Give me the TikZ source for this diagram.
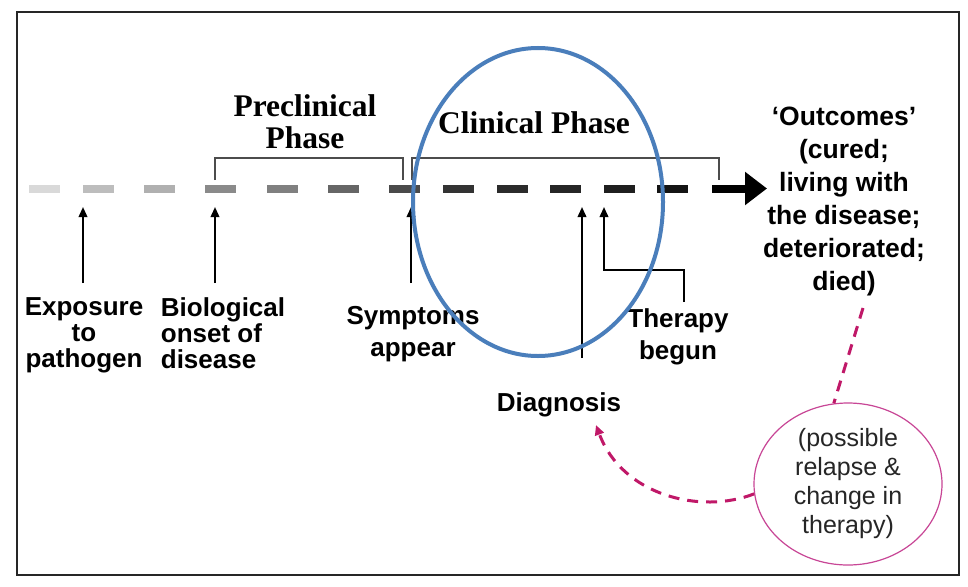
\documentclass[tikz,border=0pt]{standalone}
\usepackage{fontspec}
\setmainfont{Liberation Serif}
\newfontfamily\lsans{Liberation Sans}
\usetikzlibrary{arrows.meta,shapes.geometric}
\definecolor{bluec}{RGB}{74,126,187}
\definecolor{pinkd}{RGB}{192,24,104}
\definecolor{pinke}{RGB}{200,70,150}
\begin{document}
\begin{tikzpicture}[x=1pt,y=-1pt,
  arr/.style={line width=2pt,-{Triangle[length=10pt,width=8.5pt]}},
  brk/.style={line width=1.2pt,black!70},
  phase/.style={font=\bfseries\fontsize{31.5}{32}\selectfont,align=center,inner sep=0},
  lab/.style={font=\lsans\bfseries\fontsize{26}{26}\selectfont,align=center,inner xsep=0,anchor=north},
  labw/.style={font=\lsans\bfseries\fontsize{26}{32}\selectfont,align=center,inner xsep=0,anchor=north},
  pdash/.style={pinkd,line width=3pt,dash pattern=on 11pt off 8pt}]
\useasboundingbox (0,0) rectangle (968,586);
\fill[white] (0,0) rectangle (968,586);
\draw[black!85,line width=1.5pt] (17,12) rectangle (959,575);
% timeline
\foreach \x/\c in {29/15,83/26,144/31,205/46,267/50,328/60,389/71,443/80,497/83,550/85,604/88,657/92}
  \draw[line width=8pt,black!\c] (\x,188.5) -- ++(31,0);
\draw[line width=8pt,-{Triangle[length=22pt,width=32pt]}] (712,188.5) -- (767,188.5);
% brackets
\draw[brk] (215,180) |- (403,158) -- (403,180);
\draw[brk] (412,180) |- (719,158) -- (719,180);
% phase labels
\node[phase,anchor=north] (pre) at (305,94) {Preclinical\\Phase};
\node[phase,anchor=base] (cli) at (534,133) {Clinical Phase};
% event labels
\node[lab,inner ysep=14pt] (exp) at (84,283) {Exposure\\to\\pathogen};
\node[lab,align=left,inner ysep=14pt] (bio) at (223,283) {Biological\\onset of\\disease};
\node[labw,inner ysep=23pt] (sym) at (413,283) {Symptoms\\appear};
\node[lab,inner ysep=34pt] (diag) at (559,358) {Diagnosis};
\node[labw,inner ysep=6pt] (ther) at (678,302) {Therapy\\begun};
\node[inner sep=0,anchor=north,align=center,font=\lsans\bfseries\fontsize{26.5}{33}\selectfont] (out) at (844,107)
  {‘Outcomes’\\(cured;\\living with\\the disease;\\deteriorated;\\died)};
% arrows to timeline
\coordinate (t1) at (83,207);
\coordinate (t2) at (215,207);
\coordinate (t3) at (411,207);
\coordinate (t4) at (582,207);
\coordinate (t5) at (604,207);
\coordinate (elbow) at (684,270);
\draw[arr] (t1 |- exp.north) -- (t1);
\draw[arr] (t2 |- bio.north) -- (t2);
\draw[arr] (t3 |- sym.north) -- (t3);
\draw[arr] (t4 |- diag.north) -- (t4);
\draw[arr] (elbow |- ther.north) -- (elbow) -| (t5);
% relapse
\node[ellipse,draw=pinke,line width=1.2pt,minimum width=188pt,minimum height=162pt,inner sep=0,
  font=\lsans\fontsize{25}{29}\selectfont,text=black!85,align=center] (rel) at (848,484)
  {(possible\\relapse \&\\change in\\therapy)};
\coordinate (d1) at (863,308);
\coordinate (tip) at (596,425);
\draw[pdash] (d1) -- (rel.100);
\draw[pdash,-{Triangle[length=10pt,width=9pt]}] (rel.186) .. controls (700,515) and (622,495) .. (tip);
% clinical ellipse
\draw[bluec,line width=4pt] (538,202) ellipse [x radius=125pt,y radius=154pt];
\end{tikzpicture}
\end{document}
